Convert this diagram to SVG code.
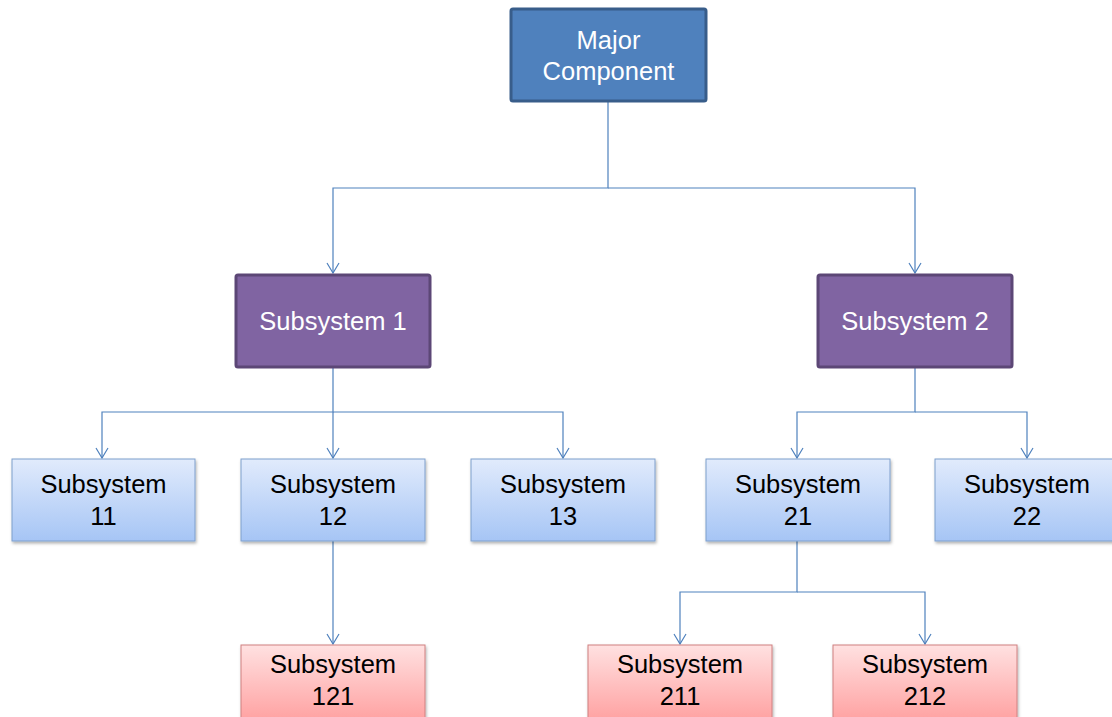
<svg xmlns="http://www.w3.org/2000/svg" width="1112" height="717" viewBox="0 0 1112 717">
  <defs>
    <linearGradient id="gBlue" x1="0" y1="0" x2="0" y2="1">
      <stop offset="0" stop-color="#E1EBFC"/>
      <stop offset="1" stop-color="#A6C5F5"/>
    </linearGradient>
    <linearGradient id="gRed" x1="0" y1="0" x2="0" y2="1">
      <stop offset="0" stop-color="#FFE1E1"/>
      <stop offset="1" stop-color="#FF9C9C"/>
    </linearGradient>
    <filter id="shadow" x="-10%" y="-10%" width="120%" height="130%">
      <feDropShadow dx="1" dy="2" stdDeviation="1.5" flood-color="#000" flood-opacity="0.3"/>
    </filter>
    <!-- open V arrowhead, drawn along +x so orient="auto" points it down the line -->
    <marker id="arrow" markerWidth="14" markerHeight="14" refX="13" refY="7" orient="auto" markerUnits="userSpaceOnUse" viewBox="0 0 14 14">
      <path d="M3,1 L13,7 L3,13" fill="none" stroke="#4F81BD" stroke-width="1.2"/>
    </marker>
  </defs>
  <style>
    text { font-family: "Liberation Sans", Arial, sans-serif; font-size: 25.5px; text-anchor: middle; }
    .top rect { fill: #4F81BD; stroke: #385D8A; stroke-width: 3; }
    .mid rect { fill: #8064A2; stroke: #5C4776; stroke-width: 3; }
    .top text, .mid text { fill: #FFFFFF; }
    .leaf rect { fill: url(#gBlue); stroke: #7F9FCC; stroke-width: 1; filter: url(#shadow); }
    .leaf2 rect { fill: url(#gRed); stroke: #D08080; stroke-width: 1; filter: url(#shadow); }
    .leaf text, .leaf2 text { fill: #000000; }
    .conn path { fill: none; stroke: #4F81BD; stroke-width: 1.2; }
  </style>
  <rect width="1112" height="717" fill="#FFFFFF"/>

  <g class="conn" id="connectors">
    <path d="M608,101 V188 H333 V273" marker-end="url(#arrow)"/>
    <path d="M608,188 H915 V273" marker-end="url(#arrow)"/>
    <path d="M333,367 V412 H102 V458" marker-end="url(#arrow)"/>
    <path d="M333,412 V458" marker-end="url(#arrow)"/>
    <path d="M333,412 H563 V458" marker-end="url(#arrow)"/>
    <path d="M915,367 V412 H797 V458" marker-end="url(#arrow)"/>
    <path d="M915,412 H1027 V458" marker-end="url(#arrow)"/>
    <path d="M333,541 V644" marker-end="url(#arrow)"/>
    <path d="M797,541 V592 H680 V644" marker-end="url(#arrow)"/>
    <path d="M797,592 H925 V644" marker-end="url(#arrow)"/>
  </g>

  <g id="major" class="top">
    <rect x="511" y="9" width="195" height="92" rx="2"/>
    <text x="608.5" y="49">Major</text>
    <text x="608.5" y="80">Component</text>
  </g>

  <g id="sub1" class="mid">
    <rect x="236" y="275" width="194" height="92" rx="2"/>
    <text x="333" y="330">Subsystem 1</text>
  </g>
  <g id="sub2" class="mid">
    <rect x="818" y="275" width="194" height="92" rx="2"/>
    <text x="915" y="330">Subsystem 2</text>
  </g>

  <g id="sub11" class="leaf">
    <rect x="12" y="459" width="183" height="82"/>
    <text x="103.5" y="493">Subsystem</text>
    <text x="103.5" y="525">11</text>
  </g>
  <g id="sub12" class="leaf">
    <rect x="241" y="459" width="184" height="82"/>
    <text x="333" y="493">Subsystem</text>
    <text x="333" y="525">12</text>
  </g>
  <g id="sub13" class="leaf">
    <rect x="471" y="459" width="184" height="82"/>
    <text x="563" y="493">Subsystem</text>
    <text x="563" y="525">13</text>
  </g>
  <g id="sub21" class="leaf">
    <rect x="706" y="459" width="184" height="82"/>
    <text x="798" y="493">Subsystem</text>
    <text x="798" y="525">21</text>
  </g>
  <g id="sub22" class="leaf">
    <rect x="935" y="459" width="184" height="82"/>
    <text x="1027" y="493">Subsystem</text>
    <text x="1027" y="525">22</text>
  </g>

  <g id="sub121" class="leaf2">
    <rect x="241" y="645" width="184" height="82"/>
    <text x="333" y="673">Subsystem</text>
    <text x="333" y="705">121</text>
  </g>
  <g id="sub211" class="leaf2">
    <rect x="588" y="645" width="184" height="82"/>
    <text x="680" y="673">Subsystem</text>
    <text x="680" y="705">211</text>
  </g>
  <g id="sub212" class="leaf2">
    <rect x="833" y="645" width="184" height="82"/>
    <text x="925" y="673">Subsystem</text>
    <text x="925" y="705">212</text>
  </g>
</svg>
